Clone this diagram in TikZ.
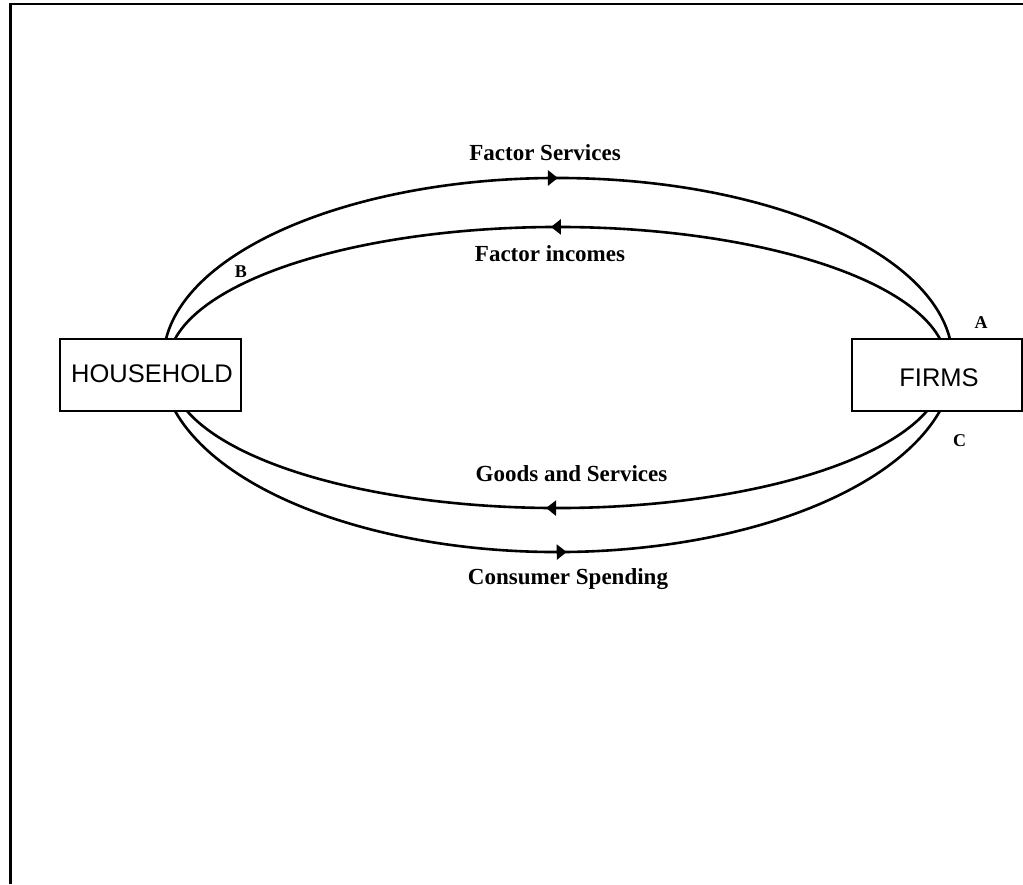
\documentclass[tikz,border=0pt]{standalone}
\usepackage{fontspec}
\setmainfont{Liberation Serif}
\newfontfamily\boxfont{Liberation Sans}
\usetikzlibrary{arrows.meta,decorations.markings}
\tikzset{
  flowline/.style={line width=2.6pt, postaction={decorate},
    decoration={markings, mark=at position #1 with {\arrow{Triangle[length=10pt,width=15pt]}}}},
  sector/.style={draw, line width=2.8pt, minimum width=#1, minimum height=72pt, inner sep=0pt},
  sectortext/.style={inner sep=0pt, font=\boxfont\fontsize{25.5}{28}\selectfont},
  flowlabel/.style={anchor=base, inner sep=0pt, font=\bfseries\fontsize{23}{26}\selectfont},
  pointlabel/.style={anchor=base, inner sep=0pt, font=\bfseries\fontsize{18}{20}\selectfont},
}
\begin{document}
\begin{tikzpicture}[x=1pt,y=1pt]
\useasboundingbox (0,0) rectangle (1023,884);
% frame
\draw[line width=2.6pt] (10.3,0) -- (10.3,880) -- (1023,880);
% boxes
\node[sector=181pt] (hh) at (150.5,509) {};
\node[sectortext] (hhtext) at (152,510) {HOUSEHOLD};
\node[sector=170pt] (fm) at (937,509) {};
\node[sectortext] (fmtext) at (939,506) {FIRMS};
% curve endpoints
\coordinate (hhTopOut) at (166,545);
\coordinate (hhTopIn) at (175,545);
\coordinate (fmTopOut) at (950,545);
\coordinate (fmTopIn) at (940,545);
\coordinate (hhBotOut) at (175,473);
\coordinate (hhBotIn) at (187,473);
\coordinate (fmBotOut) at (940,473);
\coordinate (fmBotIn) at (927,473);
% Factor services (outer top, to the right)
\draw[flowline=0.5] (hhTopOut) arc[start angle=173.375, end angle=6.625, x radius=394.6, y radius=182];
% Factor incomes (inner top, to the left)
\draw[flowline=0.508] (fmTopIn) arc[start angle=10.86, end angle=169.14, x radius=389.5, y radius=138];
% Goods and services (inner bottom, to the left)
\draw[flowline=0.514] (fmBotIn) arc[start angle=-17.28, end angle=-162.72, x radius=387.5, y radius=138];
% Consumer spending (outer bottom, to the right)
\draw[flowline=0.511] (hhBotOut) arc[start angle=-164.6, end angle=-15.4, x radius=396.7, y radius=192];
% labels
\node[flowlabel] (lfs) at (545,723) {Factor Services};
\node[flowlabel] (lfi) at (550,622) {Factor incomes};
\node[flowlabel] (lgs) at (571.5,402) {Goods and Services};
\node[flowlabel] (lcs) at (568,299) {Consumer Spending};
\node[pointlabel] (lB) at (241,606) {B};
\node[pointlabel] (lA) at (981,555) {A};
\node[pointlabel] (lC) at (959.5,437) {C};
\end{tikzpicture}
\end{document}
